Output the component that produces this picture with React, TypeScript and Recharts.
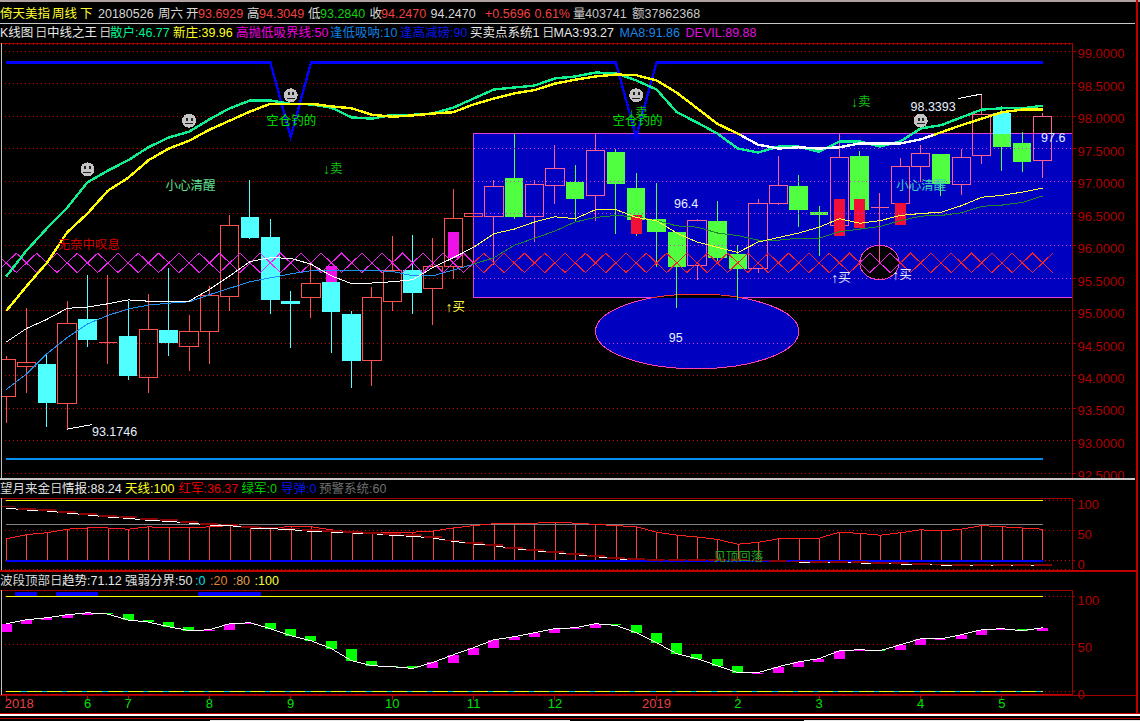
import React from 'react';
import { ComposedChart, Bar, Line, XAxis, YAxis, CartesianGrid, ReferenceArea, ReferenceLine, ReferenceDot } from 'recharts';

// ---------- candles (weekly) ----------
const kinds = ['u','u','d','u','d','u','d','u','d','u','u','u','d','d','d','u','d','d','u','u','d','u','u','u','u','d','u','u','d','u','d','d','d','d','u','d','d','u','u','d','d','u','d','u','u','u','d','u','u','d','d','u'];
const bodyTop = [94.25,94.20,94.18,94.80,94.88,94.51,94.62,94.71,94.71,94.68,95.23,96.31,96.44,96.14,95.16,95.42,95.44,94.96,95.20,95.63,95.63,95.68,96.42,96.50,96.91,97.05,96.94,97.20,96.99,97.47,97.45,96.90,96.42,96.22,96.39,96.38,95.87,96.65,96.93,96.92,96.52,97.37,97.39,96.59,97.23,97.42,97.41,97.37,98.02,98.04,97.58,97.99];
const bodyBottom = [93.69,94.14,93.58,93.57,94.56,94.51,94.00,93.98,94.50,94.45,94.69,95.22,96.13,95.17,95.11,95.21,94.99,94.23,94.24,95.15,95.28,95.35,95.69,96.46,96.46,96.44,96.46,96.93,96.72,96.78,96.96,96.40,96.21,95.68,95.70,95.82,95.64,95.66,96.66,96.55,96.48,96.32,96.55,96.59,96.66,97.22,96.95,96.94,97.40,97.52,97.30,97.31];
const highs = [94.30,95.05,94.34,95.16,95.55,95.55,95.16,95.26,95.66,94.93,95.39,96.47,97.01,96.42,95.31,95.75,95.68,95.00,95.37,96.15,96.17,96.12,96.88,96.50,97.02,97.72,97.01,97.56,97.24,97.73,97.50,97.13,96.97,96.22,96.41,96.70,96.01,96.72,97.39,97.10,96.62,97.73,97.47,96.82,97.36,97.55,97.41,97.50,98.34,98.15,97.76,98.05];
const lows = [93.28,93.73,93.22,93.17,94.44,94.18,93.93,93.73,94.30,94.08,94.18,95.00,96.10,94.95,94.43,94.89,94.36,93.82,93.85,95.00,94.96,94.79,95.49,96.46,95.70,96.42,96.06,96.64,96.39,96.38,96.19,96.16,95.67,95.04,95.47,95.77,95.17,95.58,96.63,96.30,95.84,96.16,96.28,95.75,96.35,96.98,96.77,96.79,97.27,97.16,97.14,97.04];
const signalRects = [
  { i: 16, top: 95.69, bottom: 95.45, kind: 'm' },
  { i: 22, top: 96.21, bottom: 95.81, kind: 'm' },
  { i: 31, top: 96.47, bottom: 96.19, kind: 'r' },
  { i: 41, top: 96.73, bottom: 96.16, kind: 'r' },
  { i: 42, top: 96.73, bottom: 96.28, kind: 'r' },
  { i: 44, top: 96.66, bottom: 96.33, kind: 'r' },
];

// ---------- main panel lines ----------
const sanhu = [95.53,95.93,96.27,96.59,96.98,97.16,97.32,97.52,97.67,97.76,97.95,98.12,98.24,98.24,98.19,98.18,98.13,97.98,97.96,98.02,98.02,98.04,98.13,98.27,98.41,98.44,98.47,98.58,98.61,98.67,98.66,98.55,98.41,98.06,97.90,97.73,97.50,97.44,97.53,97.53,97.45,97.61,97.61,97.53,97.61,97.81,97.86,97.98,98.10,98.12,98.12,98.16];
const xinzhuang = [95.00,95.38,95.74,96.21,96.50,96.85,97.05,97.32,97.50,97.62,97.79,97.93,98.07,98.19,98.19,98.19,98.15,98.12,98.02,97.99,98.01,98.04,98.06,98.18,98.27,98.35,98.40,98.50,98.56,98.61,98.64,98.63,98.55,98.36,98.12,97.88,97.73,97.56,97.50,97.52,97.50,97.52,97.58,97.58,97.58,97.64,97.75,97.86,97.96,98.06,98.10,98.10];
const ma3 = [94.52,94.73,94.87,95.04,95.06,95.11,95.17,95.15,95.14,95.15,95.33,95.54,95.76,95.82,95.81,95.72,95.54,95.42,95.43,95.45,95.48,95.67,95.82,95.98,96.19,96.26,96.37,96.45,96.42,96.56,96.56,96.44,96.39,96.20,96.06,95.98,95.90,96.06,96.13,96.20,96.29,96.42,96.35,96.39,96.47,96.50,96.52,96.62,96.75,96.78,96.83,96.89];
const ma8 = [93.79,94.03,94.34,94.59,94.80,94.93,95.03,95.09,95.12,95.14,95.25,95.35,95.45,95.51,95.57,95.62,95.63,95.62,95.62,95.61,95.54,95.54,95.63,95.72,95.82,96.01,96.12,96.23,96.37,96.44,96.47,96.45,96.39,96.31,96.29,96.20,96.16,96.09,96.09,96.12,96.12,96.22,96.26,96.30,96.39,96.46,96.47,96.51,96.61,96.63,96.67,96.77];
const upperBand = [98.825,98.825,98.825,98.825,98.825,98.825,98.825,98.825,98.825,98.825,98.825,98.825,98.825,98.825,97.68,98.825,98.825,98.825,98.825,98.825,98.825,98.825,98.825,98.825,98.825,98.825,98.825,98.825,98.825,98.825,98.825,97.68,98.825,98.825,98.825,98.825,98.825,98.825,98.825,98.825,98.825,98.825,98.825,98.825,98.825,98.825,98.825,98.825,98.825,98.825,98.825,98.825];
const lowerBand = [92.72,92.72,92.72,92.72,92.72,92.72,92.72,92.72,92.72,92.72,92.72,92.72,92.72,92.72,92.72,92.72,92.72,92.72,92.72,92.72,92.72,92.72,92.72,92.72,92.72,92.72,92.72,92.72,92.72,92.72,92.72,92.72,92.72,92.72,92.72,92.72,92.72,92.72,92.72,92.72,92.72,92.72,92.72,92.72,92.72,92.72,92.72,92.72,92.72,92.72,92.72,92.72];

// ---------- crossing zigzag ----------
const zigX = [-0.5,0.5,1.5,2.5,3.5,4.5,5.5,6.5,7.5,8.5,9.5,10.5,11.5,12.5,13.5,14.5,15.5,16.5,17.5,18.5,19.5,20.5,21.5,22.5,23.5,24.5,25.5,26.5,27.5,28.5,29.5,30.5,31.5,32.5,33.5,34.5,35.5,36.5,37.5,38.5,39.5,40.5,41.5,42.5,43.5,44.5,45.5,46.5,47.5,48.5,49.5,50.5,51.5];
const zigA = [95.59,95.89,95.59,95.89,95.59,95.89,95.59,95.89,95.59,95.89,95.59,95.89,95.59,95.89,95.59,95.89,95.59,95.89,95.59,95.89,95.59,95.89,95.59,95.89,95.59,95.89,95.59,95.89,95.59,95.89,95.59,95.89,95.59,95.89,95.59,95.89,95.59,95.89,95.59,95.89,95.59,95.89,95.59,95.89,95.59,95.89,95.59,95.89,95.59,95.89,95.59,95.89,95.59];
const zigB = [95.89,95.59,95.89,95.59,95.89,95.59,95.89,95.59,95.89,95.59,95.89,95.59,95.89,95.59,95.89,95.59,95.89,95.59,95.89,95.59,95.89,95.59,95.89,95.59,95.89,95.59,95.89,95.59,95.89,95.59,95.89,95.59,95.89,95.59,95.89,95.59,95.89,95.59,95.89,95.59,95.89,95.59,95.89,95.59,95.89,95.59,95.89,95.59,95.89,95.59,95.89,95.59,95.89];

// ---------- indicator 1 ----------
const hongjun = [37,44,47,53,55,55,53,57,55,55,57,59,57,54,58,57,52,48,48,48,48,50,55,59,62,63,63,65,63,61,59,57,48,43,40,36,28,31,37,38,38,48,46,43,47,52,50,53,59,57,55,53];
const qingbao = [88.3,85,83.3,80,76.7,73.3,71.1,67.8,66.1,63.3,60,58.9,55,53.9,52.2,49.4,48.3,46.7,45.6,42.8,41.1,38.3,32.8,28.3,25.6,20.6,17.2,13.9,10.6,7.2,3.9,1.1,0.6,0.6,0.6,0.6,0.6,0,-1.1,-1.7,-2.2,-3.3,-3.3,-5,-5,-6.1,-6.7,-7.8,-7.8,-8.3,-7.8,-7.8];
const qingbaoShadow = [90.5,87,85,81,78.5,75,72.5,69.5,67.5,64.5,62,60.5,57,55.5,54,51,49.5,48.5,47,44.5,42.5,40,34,29.5,27,22,18.5,15,12,8.5,5,2.5,1.5,1.5,1.5,1.5,1.5,0.5,0,-1,-1.5,-2,-2.5,-4,-4,-5.5,-6,-7,-7,-7.5,-7.5,-7];
const tianxian = [100,100,100,100,100,100,100,100,100,100,100,100,100,100,100,100,100,100,100,100,100,100,100,100,100,100,100,100,100,100,100,100,100,100,100,100,100,100,100,100,100,100,100,100,100,100,100,100,100,100,100,100];
const yujing = [60,60,60,60,60,60,60,60,60,60,60,60,60,60,60,60,60,60,60,60,60,60,60,60,60,60,60,60,60,60,60,60,60,60,60,60,60,60,60,60,60,60,60,60,60,60,60,60,60,60,60,60];
const daodan = [0,0,0,0,0,0,0,0,0,0,0,0,0,0,0,0,0,0,0,0,0,0,0,0,0,0,0,0,0,0,0,0,0,0,0,0,0,0,0,0,0,0,0,0,0,0,0,0,0,0,0,0];

// ---------- indicator 2 ----------
const trendHigh = [71.7,75.9,78.0,81.2,83.3,83.3,82.3,75.9,73.8,68.5,65.3,71.7,72.7,72.7,66.4,59.0,53.7,45.2,32.5,27.2,27.2,30.7,38.8,46.3,54.7,57.9,62.1,66.4,67.4,71.7,71.7,70.6,62.1,51.6,39.9,34.6,27.2,19.8,26.1,31.4,34.6,43.1,44.1,44.1,49.4,55.8,55.8,60.0,65.3,66.4,66.4,67.4];
const trendLow = [62.5,71.7,75.9,78.0,81.2,81.9,75.6,73.4,68.5,64.3,64.3,65.3,71.7,66.4,59.0,53.7,45.2,32.5,27.2,26.1,24.4,25.1,30.4,38.8,46.3,54.7,57.9,62.1,66.4,67.4,69.9,62.1,51.6,39.9,34.6,27.2,19.8,18.7,19.8,26.1,31.4,34.6,43.1,43.1,44.1,49.4,54.7,55.8,60.0,65.3,64.3,64.3];
const trendUp = [1,1,1,1,1,0,0,0,0,0,1,1,1,0,0,0,0,0,0,0,0,1,1,1,1,1,1,1,1,1,0,0,0,0,0,0,0,1,1,1,1,1,1,0,1,1,1,1,1,1,0,1];
const hundred = tianxian;
const zero = daodan;
const topBars = [[0.43, 1.52], [2.45, 4.5], [9.44, 12.54]];

// ---------- axis labels ----------
const priceTicks = [92.5,93,93.5,94,94.5,95,95.5,96,96.5,97,97.5,98,98.5,99];
const indicatorTicks = [0,50,100];
const monthTickIndex = [0,4,6,10,14,19,23,27,32,36,40,45,49];
const monthTickLabels = ['2018','6','7','8','9','10','11','12','2019','2','3','4','5'];

// ---------- on-chart annotations ----------
const notes = [
  { x: 4.22, y: 93.14, text: '93.1746', color: '#e8f0ff' },
  { x: 44.5, y: 98.14, text: '98.3393', color: '#e8f0ff' },
  { x: 32.86, y: 96.65, text: '96.4', color: '#e8f0ff' },
  { x: 32.6, y: 94.59, text: '95', color: '#e8f0ff' },
  { x: 50.92, y: 97.67, text: '97.6', color: '#e8f0ff' },
  { x: 12.8, y: 97.92, text: '空仓钓的', color: '#00e000' },
  { x: 29.84, y: 97.92, text: '空仓钓的', color: '#00e000' },
  { x: 15.59, y: 97.18, text: '↓卖', color: '#10c010' },
  { x: 41.57, y: 98.21, text: '↓卖', color: '#10c010' },
  { x: 30.6, y: 98.04, text: '↓卖', color: '#10c010' },
  { x: 7.84, y: 96.93, text: '小心清醒', color: '#60e090' },
  { x: 43.8, y: 96.93, text: '小心清醒', color: '#40d0c0' },
  { x: 2.52, y: 96.02, text: '无奈中叹息', color: '#d00000' },
  { x: 21.62, y: 95.06, text: '↑买', color: '#ffff40' },
  { x: 40.6, y: 95.51, text: '↑买', color: '#e8e8ff' },
  { x: 43.6, y: 95.56, text: '↑买', color: '#e8e8ff' },
];
const smileys = [[4, 97.18], [9, 97.93], [14, 98.32], [31, 98.32], [45, 97.93]];
const boxTop = 97.727;
const boxBottom = 95.2;
const boxStart = 23;
const xDomain = [-0.2559, 52.47];

const rows = kinds.map((kind, i) => ({
  x: i, kind, top: bodyTop[i], bottom: bodyBottom[i], high: highs[i], low: lows[i],
  sanhu: sanhu[i], xinzhuang: xinzhuang[i], ma3: ma3[i], ma8: ma8[i],
  upperBand: upperBand[i], lowerBand: lowerBand[i],
  signal: signalRects.find((s) => s.i === i),
}));
const zigRows = zigX.map((x, i) => ({ x, a: zigA[i], b: zigB[i] }));
const ind1Rows = kinds.map((_, i) => ({
  x: i, hongjun: hongjun[i], qingbao: qingbao[i], shadow: qingbaoShadow[i],
  tianxian: tianxian[i], yujing: yujing[i], daodan: daodan[i],
}));
const ind2Rows = kinds.map((_, i) => ({
  x: i, hi: trendHigh[i], lo: trendLow[i], up: trendUp[i],
  trend: trendUp[i] ? trendHigh[i] : trendLow[i], hundred: hundred[i], zero: zero[i],
}));

const FONT = "'Liberation Sans','Noto Sans CJK SC',sans-serif";

const Candle = (p: any) => {
  const { x, y, width, height, payload: d } = p;
  if (d == null) return null;
  const cx = x + width / 2;
  const k = height / (d.high - d.low);
  const Y = (v: number) => y + (d.high - v) * k;
  const hw = 9.2;
  const inBox = d.x > boxStart;
  const yT = Y(d.top), yB = Y(d.bottom), yH = Y(d.high), yL = Y(d.low);
  const s = d.signal;
  let sig = null;
  if (s) {
    sig = <rect x={cx - 5.5} y={Y(s.top)} width={11} height={Y(s.bottom) - Y(s.top)} fill={s.kind === 'm' ? '#f010e8' : '#f01038'} />;
  }
  if (d.kind === 'u') {
    const c = inBox ? '#ff6090' : '#ff5050';
    const flat = yB - yT < 1;
    return (
      <g>
        <line x1={cx} x2={cx} y1={yH} y2={yT} stroke={c} strokeWidth={1} />
        <line x1={cx} x2={cx} y1={yB} y2={yL} stroke={c} strokeWidth={1} />
        {flat
          ? <line x1={cx - hw} x2={cx + hw} y1={yT} y2={yT} stroke={c} strokeWidth={1} />
          : <rect x={cx - hw} y={yT} width={hw * 2} height={yB - yT} fill="none" stroke={c} strokeWidth={1} />}
        {sig}
      </g>
    );
  }
  const cyan = '#50ffff', green = '#50ff40';
  const c = inBox ? green : cyan;
  if (inBox && d.top > boxTop) {
    const yBox = Y(boxTop);
    return (
      <g>
        <line x1={cx} x2={cx} y1={yH} y2={yL} stroke={green} strokeWidth={1} />
        <rect x={cx - hw} y={yT} width={hw * 2} height={yBox - yT} fill={cyan} />
        <rect x={cx - hw} y={yBox} width={hw * 2} height={yB - yBox} fill={green} />
      </g>
    );
  }
  return (
    <g>
      <line x1={cx} x2={cx} y1={yH} y2={yL} stroke={c} strokeWidth={1} />
      <rect x={cx - hw} y={yT} width={hw * 2} height={Math.max(yB - yT, 2)} fill={c} />
      {sig}
    </g>
  );
};

const TrendBox = (p: any) => {
  const { x, y, width, height, payload: d } = p;
  if (d == null) return null;
  const cx = x + width / 2;
  return <rect x={cx - 5.5} y={y} width={11} height={Math.max(height, 1)} fill={d.up ? '#ff00ff' : '#00ff00'} />;
};

const ThinBar = (p: any) => {
  const { x, y, width, height } = p;
  const cx = Math.round(x + width / 2);
  return <rect x={cx} y={y} width={1} height={height} fill="#ff4040" />;
};

const Smiley = (p: any) => {
  const { cx, cy } = p;
  return (
    <g>
      <circle cx={cx} cy={cy} r={7} fill="#c4c4c4" />
      <rect x={cx - 3} y={cy - 3} width={2} height={3} fill="#202020" />
      <rect x={cx + 1.5} y={cy - 3} width={2} height={3} fill="#202020" />
      <rect x={cx - 4} y={cy + 2.5} width={8} height={1.2} fill="#202020" />
    </g>
  );
};

const BlueEllipse = (p: any) => {
  const { x, y, width, height } = p;
  const cx = x + width / 2, cy = y + height / 2, rx = width / 2, ry = height / 2;
  return (
    <g>
      <clipPath id="ellipseSliver"><rect x={x} y={y - 1} width={width} height={5} /></clipPath>
      <ellipse cx={cx} cy={cy} rx={rx} ry={ry} fill="#0000c0" stroke="#ff40b0" strokeWidth={1} />
      <ellipse cx={cx} cy={cy} rx={rx} ry={ry} fill="#000000" stroke="#ff3030" strokeWidth={1} clipPath="url(#ellipseSliver)" />
    </g>
  );
};

const BlackEllipse = (p: any) => {
  const { x, y, width, height } = p;
  return <ellipse cx={x + width / 2} cy={y + height / 2} rx={width / 2} ry={height / 2} fill="#000000" stroke="#ff40b0" strokeWidth={1} />;
};

const NoteShape = (p: any, n: any) => {
  const hasArrow = n.text[0] === '↓' || n.text[0] === '↑';
  return (
    <text x={p.cx} y={p.cy} dominantBaseline="central" fill={n.color} fontSize={12.5} fontFamily={FONT}>
      {hasArrow ? (
        <>
          <tspan fontWeight="bold" fontSize={14}>{n.text[0]}</tspan>
          <tspan>{n.text.slice(1)}</tspan>
        </>
      ) : n.text}
    </text>
  );
};

const MonthTick = (p: any) => {
  const { x, y, payload } = p;
  const idx = monthTickIndex.indexOf(payload.value);
  const label = monthTickLabels[idx];
  const isYear = label && label.length === 4;
  const dx = label === '2018' ? 13 : 0;
  return (
    <text x={x + dx} y={y + 8} textAnchor="middle" fontSize={13} fontFamily={FONT} fill={isYear ? '#e84040' : '#00e000'}>{label}</text>
  );
};

const yTick = (dy: number) => ({ fill: '#b00000', fontSize: 13, fontFamily: FONT, dy });

const header: any[] = [
  [0, 14, '倚天美指', '#ffff30'], [52, 14, '周线', '#ffff30'], [80, 14, '下', '#ffff30'],
  [98, 14, '20180526', '#d8d8d8'], [158, 14, '周六', '#d8d8d8'], [186, 14, '开', '#d8d8d8'], [198, 14, '93.6929', '#f04040'],
  [247, 14, '高', '#d8d8d8'], [259, 14, '94.3049', '#f04040'], [308, 14, '低', '#d8d8d8'], [320, 14, '93.2840', '#10d010'],
  [369.5, 14, '收', '#d8d8d8'], [381, 14, '94.2470', '#f04040'], [430.5, 14, '94.2470', '#d8d8d8'],
  [485, 14, '+0.5696', '#f04040'], [534.5, 14, '0.61%', '#f04040'], [573, 14, '量', '#c8c8c8'], [585, 14, '403741', '#c8c8c8'],
  [632, 14, '额', '#c8c8c8'], [644.5, 14, '37862368', '#c8c8c8'],
  [0, 33, 'K线图', '#e8e8e8'], [35, 33, '日', '#c8c8c8'], [47, 33, '中线之王', '#e8e8e8'], [99, 33, '日', '#c8c8c8'],
  [110, 33, '散户:46.77', '#00f090'], [173, 33, '新庄:39.96', '#ffff20'], [236, 33, '高抛低吸界线:50', '#f000e0'],
  [330, 33, '逢低吸呐:10', '#1080e0'], [400, 33, '逢高减磅:90', '#0818e8'], [470, 33, '买卖点系统1', '#e8e8e8'], [542, 33, '日', '#c8c8c8'],
  [553.5, 33, 'MA3:93.27', '#e8e8e8'], [619.5, 33, 'MA8:91.86', '#1888e8'], [685.6, 33, 'DEVIL:89.88', '#e010e0'],
  [0, 489, '望月来金', '#d8d8d8'], [50, 489, '日', '#c8c8c8'], [62, 489, '情报:88.24', '#e8e8e8'], [125, 489, '天线:100', '#ffff20'],
  [178.5, 489, '红军:36.37', '#e80000'], [241.5, 489, '绿军:0', '#00d000'], [281, 489, '导弹:0', '#0818e8'], [319, 489, '预警系统:60', '#707070'],
  [0, 581, '波段顶部', '#d8d8d8'], [50, 581, '日', '#c8c8c8'], [62, 581, '趋势:71.12', '#e8e8e8'], [125, 581, '强弱分界:50', '#e0e0e0'],
  [195, 581, ':0', '#00e0f0'], [210, 581, ':20', '#e08030'], [232.7, 581, ':80', '#e0a050'], [254.5, 581, ':100', '#ffff30'],
];

const frame: any[] = [
  [0, 0, 1140, 2, '#b0a0a0'], [0, 23, 1135, 1, '#c8c8c8'], [0, 43, 1073, 1, '#a00000'],
  [1, 43, 1, 435, '#c0c0c0'], [0, 478, 1135, 1.5, '#c8c8c8'], [0, 498, 1073, 1, '#a00000'],
  [1, 498, 1, 72, '#c0c0c0'], [0, 569.5, 1136, 2, '#c00000'], [0, 590, 1073, 1, '#a00000'],
  [1, 590, 1, 105, '#c0c0c0'], [0, 695, 1136, 1, '#a00000'], [1136, 0, 1.5, 714, '#c00000'],
  [0, 713, 1140, 1, '#c00000'], [0, 714, 1140, 1.5, '#ffffff'], [0, 718, 1140, 1, '#a00000'],
  [210, 719.5, 360, 1.5, '#e8e8e8'], [804, 719.5, 336, 1.5, '#e8e8e8'],
];

export default function App() {
  const lineBase = { type: 'linear' as const, dot: false, activeDot: false, isAnimationActive: false, xAxisId: 'n', yAxisId: 'v' };
  const gridDots = '1 3';
  return (
    <div style={{ position: 'absolute', left: 0, top: 0, width: 1140, height: 721, overflow: 'hidden', background: '#000', shapeRendering: 'crispEdges' }}>
      <div style={{ position: 'absolute', left: 0, top: 43.5 }}>
        <ComposedChart width={1140} height={434.5} data={rows} margin={{ left: 1, right: 0, top: 0, bottom: 0 }}>
          <defs>
            <linearGradient id="zigG" gradientUnits="userSpaceOnUse" x1="0" x2="1140" y1="0" y2="0">
              <stop offset={473 / 1140} stopColor="#f020f0" /><stop offset={473 / 1140} stopColor="#f02030" />
              <stop offset={860 / 1140} stopColor="#f02030" /><stop offset={860 / 1140} stopColor="#f020f0" />
              <stop offset={899 / 1140} stopColor="#f020f0" /><stop offset={899 / 1140} stopColor="#f02030" />
            </linearGradient>
            <linearGradient id="ma3G" gradientUnits="userSpaceOnUse" x1="0" x2="1140" y1="0" y2="0">
              <stop offset={473 / 1140} stopColor="#ffffff" /><stop offset={473 / 1140} stopColor="#ffff40" />
            </linearGradient>
            <linearGradient id="ma8G" gradientUnits="userSpaceOnUse" x1="0" x2="1140" y1="0" y2="0">
              <stop offset={473 / 1140} stopColor="#2090f0" /><stop offset={473 / 1140} stopColor="#208830" />
            </linearGradient>
            <linearGradient id="xzG" gradientUnits="userSpaceOnUse" x1="0" x2="1140" y1="0" y2="0">
              <stop offset={741 / 1140} stopColor="#ffff00" /><stop offset={741 / 1140} stopColor="#ffffff" />
              <stop offset={934 / 1140} stopColor="#ffffff" /><stop offset={934 / 1140} stopColor="#ffff00" />
            </linearGradient>
          </defs>
          <CartesianGrid horizontal vertical={false} stroke="#d00000" strokeDasharray={gridDots} xAxisId="n" yAxisId="v" />
          <XAxis xAxisId="n" dataKey="x" type="number" domain={xDomain} allowDataOverflow hide />
          <YAxis yAxisId="v" orientation="right" width={67.5} domain={[92.42, 99.11]} allowDataOverflow ticks={priceTicks} interval={0}
            tickFormatter={(v: number) => v.toFixed(4)} stroke="#a00000" tickSize={3} tick={yTick(2.5)} />
          <ReferenceArea xAxisId="n" yAxisId="v" x1={boxStart} x2={xDomain[1]} y1={boxBottom} y2={boxTop} fill="#0000c0" fillOpacity={1} stroke="#e040e0" strokeWidth={1} ifOverflow="visible" />
          {[97.5, 97, 96.5, 96, 95.5].map((v) => (
            <ReferenceLine key={v} xAxisId="n" yAxisId="v" segment={[{ x: boxStart, y: v }, { x: xDomain[1], y: v }]} stroke="#e030e0" strokeDasharray={gridDots} />
          ))}
          <ReferenceArea xAxisId="n" yAxisId="v" x1={29} x2={39} y1={94.11} y2={95.26} ifOverflow="visible" shape={BlueEllipse} />
          <ReferenceArea xAxisId="n" yAxisId="v" x1={42} x2={43.94} y1={95.48} y2={96.01} ifOverflow="visible" shape={BlackEllipse} />
          <Bar xAxisId="n" yAxisId="v" dataKey={(r: any) => [r.low, r.high]} barSize={2} shape={Candle} isAnimationActive={false} />
          <Line {...lineBase} data={zigRows} dataKey="a" stroke="url(#zigG)" strokeWidth={1} />
          <Line {...lineBase} data={zigRows} dataKey="b" stroke="url(#zigG)" strokeWidth={1} />
          <Line {...lineBase} dataKey="ma8" stroke="url(#ma8G)" strokeWidth={1} />
          <Line {...lineBase} dataKey="ma3" stroke="url(#ma3G)" strokeWidth={1} />
          <Line {...lineBase} dataKey="lowerBand" stroke="#0090f0" strokeWidth={2} />
          <Line {...lineBase} dataKey="upperBand" stroke="#0000ff" strokeWidth={2.4} />
          <Line {...lineBase} dataKey="sanhu" stroke="#10f090" strokeWidth={2.4} />
          <Line {...lineBase} dataKey="xinzhuang" stroke="url(#xzG)" strokeWidth={2.4} />
          <ReferenceLine xAxisId="n" yAxisId="v" segment={[{ x: 3, y: 93.18 }, { x: 4.22, y: 93.25 }]} stroke="#ffffff" />
          <ReferenceLine xAxisId="n" yAxisId="v" segment={[{ x: 46.84, y: 98.27 }, { x: 48, y: 98.34 }]} stroke="#ffffff" />
          <ReferenceLine xAxisId="n" yAxisId="v" segment={[{ x: 29.26, y: 94.5 }, { x: 38.7, y: 94.5 }]} stroke="#e030e0" strokeDasharray={gridDots} />
          {smileys.map(([x, y], i) => (
            <ReferenceDot key={i} xAxisId="n" yAxisId="v" x={x} y={y} ifOverflow="visible" shape={Smiley} />
          ))}
          {notes.map((n, i) => (
            <ReferenceDot key={i} xAxisId="n" yAxisId="v" x={n.x} y={n.y} ifOverflow="visible" shape={(p: any) => NoteShape(p, n)} />
          ))}
        </ComposedChart>
      </div>

      <div style={{ position: 'absolute', left: 0, top: 498.3 }}>
        <ComposedChart width={1140} height={71.7} data={ind1Rows} margin={{ left: 1, right: 0, top: 0, bottom: 0 }}>
          <CartesianGrid horizontal vertical={false} stroke="#d00000" strokeDasharray={gridDots} xAxisId="n" yAxisId="v" />
          <XAxis xAxisId="n" dataKey="x" type="number" domain={xDomain} allowDataOverflow hide />
          <YAxis yAxisId="v" orientation="right" width={67.5} domain={[-14.5, 105]} allowDataOverflow ticks={indicatorTicks} interval={0} stroke="#a00000" tickSize={3} tick={yTick(3)} />
          <Bar xAxisId="n" yAxisId="v" dataKey="hongjun" barSize={2} shape={ThinBar} isAnimationActive={false} />
          <Line {...lineBase} dataKey="tianxian" stroke="#ffff00" strokeWidth={1} />
          <Line {...lineBase} dataKey="yujing" stroke="#808080" strokeWidth={1} />
          <Line {...lineBase} dataKey="shadow" stroke="none"
            dot={(p: any) => <rect key={p.index} x={p.cx - 9} y={p.cy - 1} width={18} height={1.8} fill="#8b0000" />} />
          <Line {...lineBase} dataKey="hongjun" stroke="#ff2020" strokeWidth={1} />
          <Line {...lineBase} dataKey="qingbao" stroke="#ffffff" strokeWidth={1} />
          <Line {...lineBase} dataKey="daodan" stroke="#0000ff" strokeWidth={2} />
          <ReferenceDot xAxisId="n" yAxisId="v" x={34.8} y={7} ifOverflow="visible"
            shape={(p: any) => NoteShape(p, { text: '见顶回落', color: '#20a020' })} />
        </ComposedChart>
      </div>

      <div style={{ position: 'absolute', left: 0, top: 590.3 }}>
        <ComposedChart width={1140} height={123.7} data={ind2Rows} margin={{ left: 1, right: 0, top: 0, bottom: 0 }}>
          <CartesianGrid horizontal vertical={false} stroke="#d00000" strokeDasharray={gridDots} xAxisId="n" yAxisId="v" />
          <XAxis xAxisId="n" dataKey="x" type="number" domain={xDomain} allowDataOverflow height={19} ticks={monthTickIndex} interval={0}
            stroke="#c00000" tickSize={5} tickMargin={0} tick={MonthTick} />
          <YAxis yAxisId="v" orientation="right" width={67.5} domain={[-3.5, 107.4]} allowDataOverflow ticks={indicatorTicks} interval={0} stroke="#a00000" tickSize={3} tick={yTick(3)} />
          {topBars.map(([a, b], i) => (
            <ReferenceArea key={i} xAxisId="n" yAxisId="v" x1={a} x2={b} y1={100.6} y2={104.9} fill="#0000ff" fillOpacity={1} stroke="none" />
          ))}
          <Line {...lineBase} dataKey="hundred" stroke="#ffff00" strokeWidth={1} />
          <Line {...lineBase} dataKey="zero" stroke="#00d8f0" strokeWidth={1} />
          <Line {...lineBase} dataKey="zero" stroke="#ffff00" strokeWidth={1} strokeDasharray="15 5.3" />
          <Bar xAxisId="n" yAxisId="v" dataKey={(r: any) => [r.lo, r.hi]} barSize={2} shape={TrendBox} isAnimationActive={false} />
          <Line {...lineBase} dataKey="trend" stroke="#ffffff" strokeWidth={1} />
        </ComposedChart>
      </div>

      {frame.map(([l, t, w, h, c], i) => (
        <div key={i} style={{ position: 'absolute', left: l, top: t, width: w, height: h, background: c }} />
      ))}
      {header.map(([x, y, text, color], i) => (
        <span key={i} style={{ position: 'absolute', left: x, top: y - 8, height: 16, lineHeight: '16px', fontSize: 12.5, fontFamily: FONT, color, whiteSpace: 'nowrap' }}>{text}</span>
      ))}
    </div>
  );
}
